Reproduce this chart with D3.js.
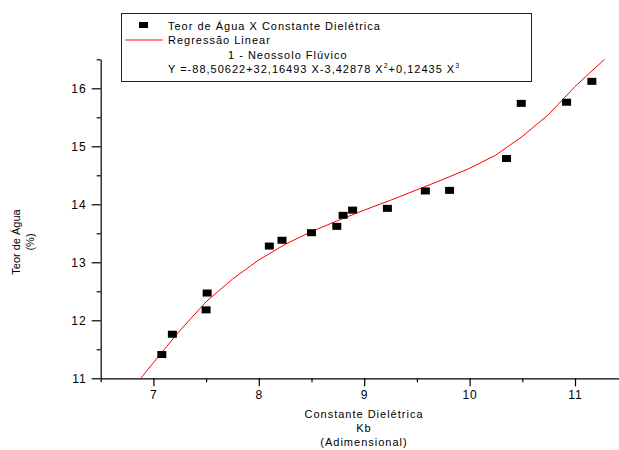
<!DOCTYPE html>
<html>
<head>
<meta charset="utf-8">
<script src="https://cdn.jsdelivr.net/npm/d3@7"></script>
<style>
  body { margin: 0; background: #fff; }
  svg { font-family: "Liberation Sans", Arial, sans-serif; }
  .tick text { font-size: 12px; letter-spacing: 1px; fill: #000; }
  .axis path, .axis line { stroke: #000; stroke-width: 1.2; }
</style>
</head>
<body>
<svg id="chart" width="619" height="450"></svg>
<script>
// measured points: Teor de Agua vs Constante Dieletrica
const kb = [7.08, 7.18, 7.50, 7.51, 8.10, 8.22, 8.50, 8.74, 8.80, 8.89, 9.22, 9.58, 9.81, 10.35, 10.49, 10.92, 11.16];
const teor = [11.41, 11.76, 12.18, 12.47, 13.28, 13.38, 13.51, 13.62, 13.81, 13.90, 13.93, 14.23, 14.24, 14.79, 15.74, 15.76, 16.12];

// regression curve
const fitX = [6.88, 7.0, 7.25, 7.5, 7.75, 8.0, 8.25, 8.5, 8.75, 9.0, 9.25, 9.5, 9.75, 10.0, 10.25, 10.5, 10.75, 11.0, 11.28];
const fitY = [11.0, 11.27, 11.82, 12.32, 12.71, 13.04, 13.31, 13.53, 13.72, 13.90, 14.07, 14.25, 14.43, 14.62, 14.85, 15.17, 15.55, 16.03, 16.5];

const xMajor = [7, 8, 9, 10, 11];
const xMinor = [6.5, 7.5, 8.5, 9.5, 10.5, 11.5];
const yMajor = [11, 12, 13, 14, 15, 16];
const yMinor = [11.5, 12.5, 13.5, 14.5, 15.5, 16.5];

const svg = d3.select('#chart');

const x = d3.scaleLinear().domain([6.5, 11.5]).range([100.7, 627.7]);
const y = d3.scaleLinear().domain([11, 16.5]).range([378.3, 59.3]);

// x axis
svg.append('g').attr('class', 'axis')
    .attr('transform', `translate(0,${y(11)})`)
    .call(d3.axisBottom(x).tickValues(xMinor).tickSize(4).tickFormat('').tickSizeOuter(0))
    .select('.domain').remove();
svg.append('g').attr('class', 'axis')
    .attr('transform', `translate(0,${y(11)})`)
    .call(d3.axisBottom(x).tickValues(xMajor).tickFormat(d3.format('d')).tickSize(8).tickPadding(4).tickSizeOuter(0));

// y axis
svg.append('g').attr('class', 'axis')
    .attr('transform', `translate(${x(6.5)},0)`)
    .call(d3.axisLeft(y).tickValues(yMinor).tickSize(4).tickFormat('').tickSizeOuter(0))
    .select('.domain').remove();
svg.append('g').attr('class', 'axis')
    .attr('transform', `translate(${x(6.5)},0)`)
    .call(d3.axisLeft(y).tickValues(yMajor).tickFormat(d3.format('d')).tickSize(9).tickPadding(5).tickSizeOuter(0));

// axis titles
let xt = svg.append('text')
    .attr('text-anchor', 'middle')
    .attr('font-size', 11)
    .attr('letter-spacing', 1)
    .attr('fill', '#000');
['Constante Dielétrica', 'Kb', '(Adimensional)'].forEach((t, i) => {
    xt.append('tspan').attr('x', 364).attr('y', 418 + i * 14).text(t);
});

let yt = svg.append('text')
    .attr('text-anchor', 'middle')
    .attr('font-size', 11)
    .attr('fill', '#000')
    .attr('transform', 'translate(0,242) rotate(-90)');
yt.append('tspan').attr('x', 0).attr('y', 20).text('Teor de Água');
yt.append('tspan').attr('x', 0).attr('y', 34).text('(%)');

// fitted line
const fit = fitX.map((v, i) => [v, fitY[i]]);
svg.append('path')
    .datum(fit)
    .attr('fill', 'none')
    .attr('stroke', '#ff0000')
    .attr('stroke-width', 1)
    .attr('d', d3.line().x(d => x(d[0])).y(d => y(d[1])));

// points
svg.append('g').selectAll('rect')
    .data(kb.map((v, i) => [v, teor[i]]))
    .join('rect')
    .attr('x', d => x(d[0]) - 4.5)
    .attr('y', d => y(d[1]) - 3.5)
    .attr('width', 9)
    .attr('height', 7)
    .attr('fill', '#000');

// legend
let lg = svg.append('g');
lg.append('rect')
    .attr('x', 121.5).attr('y', 13.5)
    .attr('width', 410).attr('height', 68)
    .attr('fill', '#fff')
    .attr('stroke', '#222')
    .attr('stroke-width', 1);
lg.append('rect')
    .attr('x', 139).attr('y', 22).attr('width', 9).attr('height', 6).attr('fill', '#000');
lg.append('line')
    .attr('x1', 125).attr('x2', 163).attr('y1', 40).attr('y2', 40)
    .attr('stroke', '#ff6060').attr('stroke-width', 1.5);

let lt = lg.append('g')
    .attr('font-size', 11)
    .attr('letter-spacing', 1)
    .attr('fill', '#000');
lt.append('text').attr('x', 168).attr('y', 29.5).text('Teor de Água X Constante Dielétrica');
lt.append('text').attr('x', 168).attr('y', 44).text('Regressão Linear');
lt.append('text').attr('x', 228).attr('y', 58.5).text('1 - Neossolo Flúvico');
let eq = lt.append('text').attr('x', 168).attr('y', 73);
eq.append('tspan').text('Y =-88,50622+32,16493 X-3,42878 X');
eq.append('tspan').attr('dy', -5).attr('font-size', 7).text('2');
eq.append('tspan').attr('dy', 5).text('+0,12435 X');
eq.append('tspan').attr('dy', -5).attr('font-size', 7).text('3');
</script>
</body>
</html>
